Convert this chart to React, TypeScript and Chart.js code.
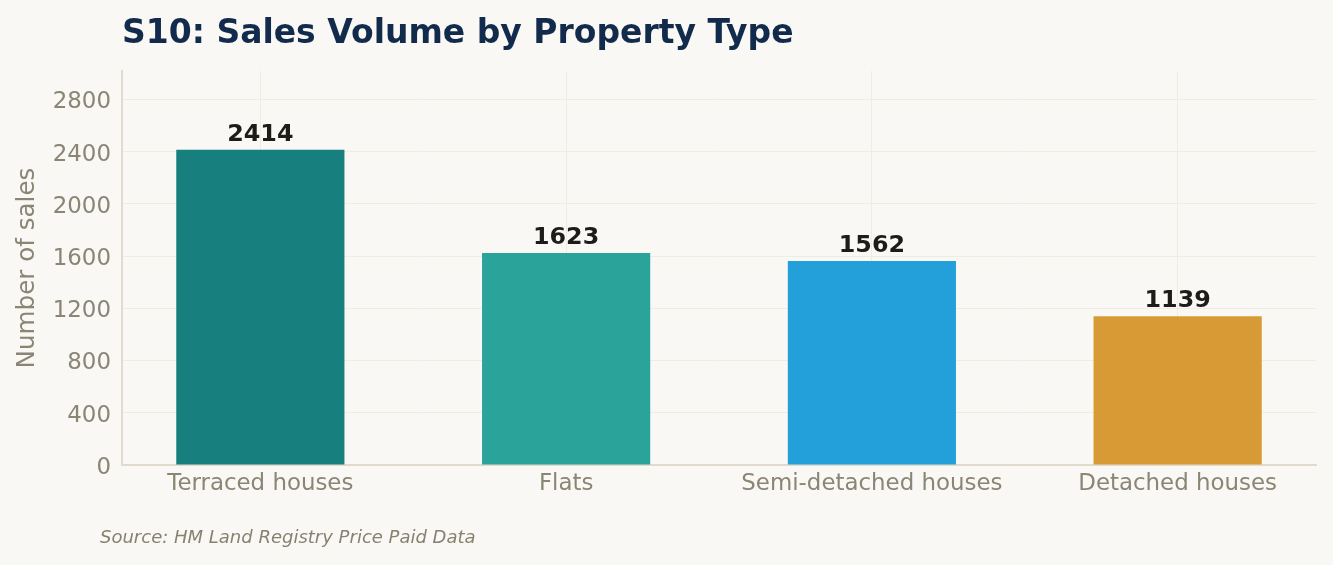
import React, { useEffect, useRef } from "react";
import { Chart, registerables } from "chart.js";

Chart.register(...registerables);

const categories = ["Terraced houses", "Flats", "Semi-detached houses", "Detached houses"];
const salesCounts = [2414, 1623, 1562, 1139];
const barColors = ["#177f7e", "#2aa39b", "#239fd9", "#d89a34"];
const yTicks = [0, 400, 800, 1200, 1600, 2000, 2400, 2800];
const titleText = "S10: Sales Volume by Property Type";
const yAxisLabel = "Number of sales";
const sourceText = "Source: HM Land Registry Price Paid Data";

const FONT = "'DejaVu Sans', sans-serif";
const BG = "#f9f8f4";
const TICK_COLOR = "#8a8574";
const GRID_COLOR = "#efece4";
const SPINE_COLOR = "#e0dbcc";

export default function App() {
  const ref = useRef<HTMLCanvasElement>(null);

  useEffect(() => {
    document.body.style.margin = "0";
    const canvas = ref.current;
    if (!canvas) return;

    const annotate = {
      id: "annotate",
      afterDatasetsDraw(chart: any) {
        const c = chart.ctx;
        const meta = chart.getDatasetMeta(0);
        c.save();
        c.fillStyle = "#1e1c18";
        c.font = `bold 23.8px ${FONT}`;
        c.textAlign = "center";
        c.textBaseline = "alphabetic";
        meta.data.forEach((bar: any, i: number) => {
          c.fillText(String(salesCounts[i]), bar.x, bar.y - 9);
        });
        c.restore();
      },
      afterDraw(chart: any) {
        const c = chart.ctx;
        c.save();
        c.textAlign = "left";
        c.textBaseline = "alphabetic";
        c.fillStyle = "#122a4b";
        c.font = `bold 33px ${FONT}`;
        c.fillText(titleText, chart.chartArea.left, 43);
        c.fillStyle = "#868170";
        c.font = `italic 18px ${FONT}`;
        c.fillText(sourceText, 100, 543);
        c.restore();
      },
    };

    const points = salesCounts.map((v, i) => ({ x: i, y: v }));
    const barSpan = 0.55;
    const xPad = ((categories.length - 1) + barSpan) * 0.05;
    const xMin = -barSpan / 2 - xPad;
    const xMax = categories.length - 1 + barSpan / 2 + xPad;
    const yMax = Math.max(...salesCounts) * 1.25;

    const chart = new Chart(canvas, {
      type: "bar",
      data: {
        datasets: [
          {
            data: points as any,
            backgroundColor: barColors,
            borderWidth: 0,
            categoryPercentage: 1,
            barPercentage: barSpan,
          },
        ],
      },
      plugins: [annotate],
      options: {
        animation: false,
        responsive: true,
        maintainAspectRatio: false,
        devicePixelRatio: 1,
        layout: { padding: { left: 0, right: 17, top: 71, bottom: 0 } },
        plugins: {
          legend: { display: false },
          title: { display: false },
          tooltip: { enabled: false },
        },
        scales: {
          x: {
            type: "linear",
            min: xMin,
            max: xMax,
            offset: false,
            afterBuildTicks: (s: any) => {
              s.ticks = categories.map((_, i) => ({ value: i }));
            },
            afterFit: (s: any) => {
              s.height = 100;
            },
            ticks: {
              color: TICK_COLOR,
              font: { family: FONT, size: 22.9 },
              padding: 5,
              autoSkip: false,
              maxRotation: 0,
              minRotation: 0,
              callback: (v: any) => categories[Math.round(Number(v))] ?? "",
            },
            grid: { color: GRID_COLOR, lineWidth: 1, drawTicks: false, offset: false },
            border: { color: SPINE_COLOR, width: 2 },
          },
          y: {
            type: "linear",
            min: 0,
            max: yMax,
            afterBuildTicks: (s: any) => {
              s.ticks = yTicks.map((v) => ({ value: v }));
            },
            afterFit: (s: any) => {
              s.width = 122;
            },
            ticks: {
              color: TICK_COLOR,
              font: { family: FONT, size: 22.9 },
              padding: 11,
              labelOffset: 3,
              callback: (v: any) => String(v),
            },
            grid: { color: GRID_COLOR, lineWidth: 1, drawTicks: false },
            border: { color: SPINE_COLOR, width: 2 },
            title: {
              display: true,
              text: yAxisLabel,
              color: TICK_COLOR,
              font: { family: FONT, size: 24.6 },
              padding: { top: 13, bottom: 0 },
            },
          },
        },
      },
    } as any);

    return () => chart.destroy();
  }, []);

  return (
    <div
      style={{
        position: "fixed",
        left: 0,
        top: 0,
        width: 1333,
        height: 565,
        background: BG,
      }}
    >
      <canvas ref={ref} />
    </div>
  );
}
